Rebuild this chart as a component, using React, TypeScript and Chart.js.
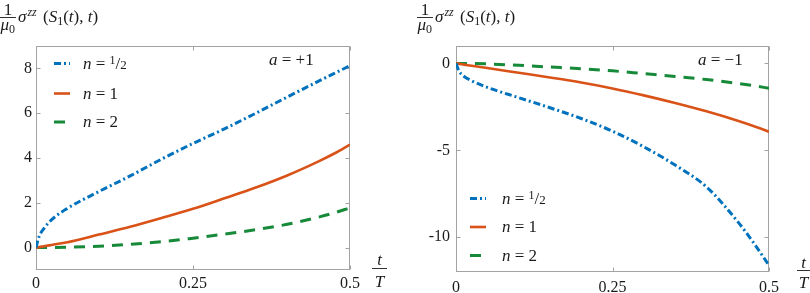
import React, { useEffect, useRef } from 'react';
import { Chart, registerables } from 'chart.js';

Chart.register(...registerables);

// ---- data ----
const T_VALUES = [0, 0.005, 0.0125, 0.025, 0.05, 0.1, 0.15, 0.2, 0.25, 0.3, 0.35, 0.4, 0.45, 0.475, 0.5];

// a = +1
const LEFT_N_HALF = [0, 0.5, 0.85, 1.25, 1.75, 2.5, 3.2, 3.95, 4.65, 5.3, 6.0, 6.72, 7.43, 7.78, 8.12];
const LEFT_N_ONE = [0, 0.02, 0.06, 0.12, 0.24, 0.58, 0.93, 1.32, 1.73, 2.2, 2.68, 3.22, 3.85, 4.2, 4.6];
const LEFT_N_TWO = [0, 0, 0, 0.005, 0.02, 0.065, 0.15, 0.26, 0.42, 0.6, 0.8, 1.04, 1.36, 1.55, 1.78];

// a = -1
const RIGHT_N_HALF = [0, -0.45, -0.74, -1.0, -1.38, -1.97, -2.55, -3.17, -3.9, -4.8, -5.85, -7.1, -9.1, -10.3, -11.62];
const RIGHT_N_ONE = [0, -0.03, -0.07, -0.14, -0.27, -0.54, -0.81, -1.1, -1.44, -1.84, -2.28, -2.76, -3.3, -3.6, -3.93];
const RIGHT_N_TWO = [0, 0, -0.005, -0.01, -0.03, -0.11, -0.21, -0.31, -0.43, -0.59, -0.75, -0.93, -1.15, -1.28, -1.43];

const X_TICKS = [0, 0.25, 0.5];
const X_TICK_LABELS = ['0', '0.25', '0.5'];
const LEFT_Y_TICKS = [0, 2, 4, 6, 8];
const RIGHT_Y_TICKS = [-10, -5, 0];
const SERIES_LABELS = ['n = 1/2', 'n = 1', 'n = 2'];
const A_LABELS = ['+1', '\u22121'];

// ---- styles ----
const BLUE = '#0072BD';
const ORANGE = '#D95319';
const GREEN = '#178A3A';
const COLORS = [BLUE, ORANGE, GREEN];
const DASHES: number[][] = [[7, 3, 2, 3], [], [11, 8]];
const WIDTHS = [3, 2.6, 3];
const SERIF = "'Liberation Serif'";
const TEXT = '#1a1a1a';
const FRAME = '#a3a3a3';

const fnt = (size: number, italic = false) => `${italic ? 'italic ' : 'normal '}${size}px ${SERIF}`;

type Run = { t: string; f: string; dy?: number; dx?: number };
function drawRuns(ctx: CanvasRenderingContext2D, x: number, y: number, runs: Run[]) {
  let cx = x;
  for (const r of runs) {
    ctx.font = r.f;
    cx += r.dx || 0;
    ctx.fillText(r.t, cx, y + (r.dy || 0));
    cx += ctx.measureText(r.t).width;
  }
  return cx;
}

interface PanelCfg {
  left: number;
  width: number;
  yMin: number;
  yMax: number;
  yTicks: number[];
  series: number[][];
  aLabel: string;
  yAxisWidth: number;
  padRight: number;
  xAxisHeight: number;
  yTickPad: number;
  xTickPad: number;
  labelX: number;
  legend: { lineX: number; lineYs: number[]; textX: number; baseYs: number[] };
  annot: { x: number; y: number };
  tT: { cx: number; tBase: number; barY: number; barX0: number; barX1: number; TBase: number };
}

const LEFT_CFG: PanelCfg = {
  left: 0,
  width: 405,
  yMin: -1,
  yMax: 9,
  yTicks: LEFT_Y_TICKS,
  series: [LEFT_N_HALF, LEFT_N_ONE, LEFT_N_TWO],
  aLabel: A_LABELS[0],
  yAxisWidth: 36,
  padRight: 55,
  xAxisHeight: 23,
  yTickPad: 4,
  xTickPad: 4,
  labelX: 0,
  legend: { lineX: 54, lineYs: [63.5, 93.5, 122], textX: 83, baseYs: [68.5, 98.5, 127] },
  annot: { x: 269, y: 65 },
  tT: { cx: 379.5, tBase: 265, barY: 268.5, barX0: 372, barX1: 387, TBase: 287 },
};

const RIGHT_CFG: PanelCfg = {
  left: 405,
  width: 405,
  yMin: -12,
  yMax: 1,
  yTicks: RIGHT_Y_TICKS,
  series: [RIGHT_N_HALF, RIGHT_N_ONE, RIGHT_N_TWO],
  aLabel: A_LABELS[1],
  yAxisWidth: 51,
  padRight: 41,
  xAxisHeight: 21,
  yTickPad: 6,
  xTickPad: 6,
  labelX: 12,
  legend: { lineX: 65, lineYs: [198.5, 227, 255.5], textX: 97, baseYs: [203.5, 232, 260.5] },
  annot: { x: 293, y: 65 },
  tT: { cx: 398.5, tBase: 268, barY: 270.5, barX0: 392, barX1: 405, TBase: 288 },
};

function makePlugin(cfg: PanelCfg) {
  return {
    id: 'decor',
    beforeDatasetsDraw(chart: any) {
      const { ctx, chartArea: a, scales } = chart;
      ctx.save();
      ctx.strokeStyle = FRAME;
      ctx.lineWidth = 1;
      const l = Math.round(a.left) + 0.5;
      const r = Math.round(a.right) - 0.5;
      const t = Math.round(a.top) + 0.5;
      const b = Math.round(a.bottom) - 0.5;
      ctx.strokeRect(l, t, r - l, b - t);
      const L = 4;
      ctx.beginPath();
      for (const tk of scales.y.ticks) {
        const y = Math.round(scales.y.getPixelForValue(tk.value)) + 0.5;
        ctx.moveTo(l, y); ctx.lineTo(l + L, y);
        ctx.moveTo(r, y); ctx.lineTo(r - L, y);
      }
      for (const tk of scales.x.ticks) {
        const x = Math.round(scales.x.getPixelForValue(tk.value)) + 0.5;
        ctx.moveTo(x, t); ctx.lineTo(x, t + L);
        ctx.moveTo(x, b); ctx.lineTo(x, b - L);
      }
      ctx.stroke();
      ctx.restore();
    },
    afterDraw(chart: any) {
      const ctx: CanvasRenderingContext2D = chart.ctx;
      ctx.save();
      ctx.fillStyle = TEXT;
      ctx.strokeStyle = TEXT;
      ctx.textBaseline = 'alphabetic';

      // y label: 1/mu0 sigma^zz (S1(t), t)
      const ox = cfg.labelX;
      ctx.textAlign = 'center';
      ctx.font = fnt(17);
      ctx.fillText('1', ox + 8, 15);
      ctx.lineWidth = 0.9;
      ctx.beginPath();
      ctx.moveTo(ox, 17.5);
      ctx.lineTo(ox + 16, 17.5);
      ctx.stroke();
      ctx.textAlign = 'left';
      drawRuns(ctx, ox + 0.5, 30, [{ t: '\u03bc', f: fnt(17, true) }, { t: '0', f: fnt(12), dy: 3 }]);
      drawRuns(ctx, ox + 18, 22, [{ t: '\u03c3', f: fnt(17, true) }, { t: 'zz', f: fnt(12, true), dy: -6, dx: 1 }]);
      drawRuns(ctx, ox + 43, 22, [
        { t: '(', f: fnt(17) },
        { t: 'S', f: fnt(17, true) },
        { t: '1', f: fnt(12), dy: 3 },
        { t: '(', f: fnt(17) },
        { t: 't', f: fnt(17, true) },
        { t: '), ', f: fnt(17) },
        { t: 't', f: fnt(17, true) },
        { t: ')', f: fnt(17) },
      ]);

      // t / T
      const tt = cfg.tT;
      ctx.textAlign = 'center';
      ctx.font = fnt(17, true);
      ctx.fillText('t', tt.cx, tt.tBase);
      ctx.fillText('T', tt.cx, tt.TBase);
      ctx.beginPath();
      ctx.moveTo(tt.barX0, tt.barY);
      ctx.lineTo(tt.barX1, tt.barY);
      ctx.stroke();
      ctx.textAlign = 'left';

      // a = ±1
      drawRuns(ctx, cfg.annot.x, cfg.annot.y, [
        { t: 'a', f: fnt(17, true) },
        { t: ' = ' + cfg.aLabel, f: fnt(17) },
      ]);

      // legend
      const lg = cfg.legend;
      for (let i = 0; i < 3; i++) {
        ctx.save();
        ctx.strokeStyle = COLORS[i];
        ctx.lineWidth = WIDTHS[i];
        ctx.setLineDash(DASHES[i]);
        ctx.beginPath();
        ctx.moveTo(lg.lineX, lg.lineYs[i]);
        ctx.lineTo(lg.lineX + 16, lg.lineYs[i]);
        ctx.stroke();
        ctx.restore();
        const parts = SERIES_LABELS[i].split(' = ');
        const val = parts[1];
        const runs: Run[] = [
          { t: 'n', f: fnt(17, true) },
          { t: ' = ', f: fnt(17) },
        ];
        if (val.includes('/')) {
          const [num, den] = val.split('/');
          runs.push({ t: num, f: fnt(12), dy: -5 });
          runs.push({ t: '/', f: fnt(17) });
          runs.push({ t: den, f: fnt(13) });
        } else {
          runs.push({ t: val, f: fnt(17) });
        }
        drawRuns(ctx, lg.textX, lg.baseYs[i], runs);
      }
      ctx.restore();
    },
  };
}

function Panel({ cfg }: { cfg: PanelCfg }) {
  const ref = useRef<HTMLCanvasElement>(null);
  useEffect(() => {
    let chart: Chart | null = null;
    let cancelled = false;
    const build = () => {
      if (cancelled || !ref.current) return;
      const datasets = cfg.series.map((vals, i) => ({
        label: SERIES_LABELS[i],
        data: T_VALUES.map((t, j) => ({ x: t, y: vals[j] })),
        borderColor: COLORS[i],
        backgroundColor: COLORS[i],
        borderWidth: WIDTHS[i],
        borderDash: DASHES[i],
        borderCapStyle: 'butt' as const,
        pointRadius: 0,
        fill: false,
        cubicInterpolationMode: 'monotone' as const,
      }));
      chart = new Chart(ref.current, {
        type: 'line',
        data: { datasets },
        options: {
          responsive: false,
          animation: false,
          events: [],
          layout: { padding: { left: 0, top: 46, right: cfg.padRight, bottom: 0 } },
          plugins: { legend: { display: false }, tooltip: { enabled: false } },
          scales: {
            x: {
              type: 'linear',
              min: 0,
              max: 0.5,
              grid: { display: false, drawTicks: false },
              border: { display: false },
              afterBuildTicks: (s: any) => { s.ticks = X_TICKS.map((v) => ({ value: v })); },
              afterFit: (s: any) => { s.height = cfg.xAxisHeight; },
              ticks: {
                padding: cfg.xTickPad,
                color: TEXT,
                maxRotation: 0,
                font: { family: SERIF, size: 16 },
                callback: (v: any) => {
                  const k = X_TICKS.indexOf(Number(v));
                  return k >= 0 ? X_TICK_LABELS[k] : '';
                },
              },
            },
            y: {
              type: 'linear',
              min: cfg.yMin,
              max: cfg.yMax,
              grid: { display: false, drawTicks: false },
              border: { display: false },
              afterBuildTicks: (s: any) => { s.ticks = cfg.yTicks.map((v) => ({ value: v })); },
              afterFit: (s: any) => { s.width = cfg.yAxisWidth; },
              ticks: {
                padding: cfg.yTickPad,
                color: TEXT,
                font: { family: SERIF, size: 16 },
                callback: (v: any) => String(v),
              },
            },
          },
        },
        plugins: [makePlugin(cfg)],
      } as any);
    };
    const fontsReady = (document as any).fonts
      ? Promise.all([
          (document as any).fonts.load(fnt(16)),
          (document as any).fonts.load(fnt(16, true)),
        ]).catch(() => null)
      : Promise.resolve(null);
    fontsReady.then(build);
    return () => {
      cancelled = true;
      if (chart) chart.destroy();
    };
  }, [cfg]);
  return (
    <canvas
      ref={ref}
      width={cfg.width}
      height={293}
      style={{ position: 'absolute', left: cfg.left, top: 0, width: cfg.width, height: 293 }}
    />
  );
}

export default function App() {
  return (
    <div style={{ position: 'fixed', left: 0, top: 0, width: 810, height: 293, background: '#ffffff', overflow: 'hidden' }}>
      <Panel cfg={LEFT_CFG} />
      <Panel cfg={RIGHT_CFG} />
    </div>
  );
}
